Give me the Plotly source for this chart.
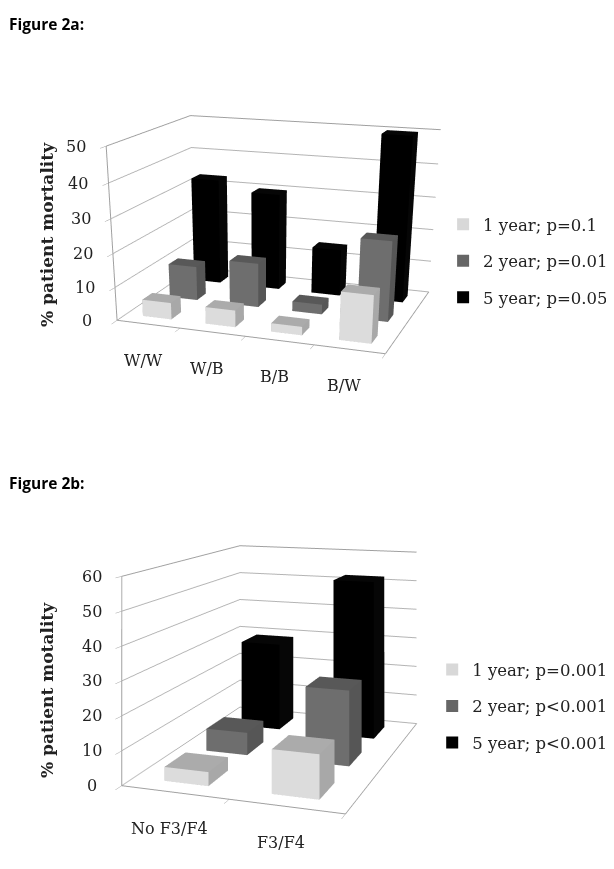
import plotly.graph_objects as go

FONT = "DejaVu Serif"
TEXT = "#222222"
W, H = 606, 861  # the page body adds an 8px margin round the plot

# Figure 2a
cats_a = ["W/W", "W/B", "B/B", "B/W"]
ticks_a = [0, 10, 20, 30, 40, 50]
one_year_a = [5, 5, 2.5, 14]
two_year_a = [10.5, 13.5, 3, 24]
five_year_a = [33, 30, 14.5, 50]
names_a = ["1 year; p=0.1", "2 year; p=0.01", "5 year; p=0.05"]

# Figure 2b
cats_b = ["No F3/F4", "F3/F4"]
ticks_b = [0, 10, 20, 30, 40, 50, 60]
one_year_b = [4, 12.5]
two_year_b = [7, 23]
five_year_b = [29, 52]
names_b = ["1 year; p=0.001", "2 year; p<0.001", "5 year; p<0.001"]

# front, side, top colours for each series
SHADES = [("#dcdcdc", "#a8a8a8", "#ababab"),
          ("#6e6e6e", "#565656", "#585858"),
          ("#000000", "#060606", "#060606")]
SWATCH = ["#d8d8d8", "#666666", "#000000"]


def bars(values, row, shades, scene, width=0.5, depth=0.5):
    """One mesh for a whole series, a box per category."""
    xs, ys, zs, i, j, k, colors = [], [], [], [], [], [], []
    front, side, top = shades
    for col, val in enumerate(values):
        n = len(xs)
        x0, x1 = col + 0.5 - width / 2, col + 0.5 + width / 2
        y0, y1 = row + 0.5 - depth / 2, row + 0.5 + depth / 2
        xs += [x0, x1, x1, x0, x0, x1, x1, x0]
        ys += [y0, y0, y1, y1, y0, y0, y1, y1]
        zs += [0, 0, 0, 0, val, val, val, val]
        faces = [(0, 1, 5, front), (0, 5, 4, front),
                 (1, 2, 6, side), (1, 6, 5, side),
                 (4, 5, 6, top), (4, 6, 7, top),
                 (3, 0, 4, side), (3, 4, 7, side),
                 (2, 3, 7, side), (2, 7, 6, side),
                 (0, 2, 1, side), (0, 3, 2, side)]
        for a, b, c, color in faces:
            i.append(n + a)
            j.append(n + b)
            k.append(n + c)
            colors.append(color)
    return go.Mesh3d(x=xs, y=ys, z=zs, i=i, j=j, k=k, facecolor=colors,
                     flatshading=True, scene=scene, hoverinfo="skip",
                     lighting=dict(ambient=1, diffuse=0, specular=0, fresnel=0))


def legend_entry(name, color, scene, legend):
    return go.Scatter3d(x=[None], y=[None], z=[None], mode="markers", name=name,
                        legendgroup=name,
                        marker=dict(symbol="square", size=11, color=color),
                        scene=scene, legend=legend, showlegend=True)


def scene_layout(cats, z_ticks, aspect, eye, center):
    line = dict(showline=True, linecolor="#a0a0a0", linewidth=2, showgrid=False,
                zeroline=False, showbackground=False, showspikes=False, title="")
    blank = dict(size=1, color="rgba(0,0,0,0)")
    labels = [dict(x=c + 0.5, y=0, z=0, text=cat, showarrow=False, xshift=-5, yshift=-36,
                   font=dict(family=FONT, size=16, color=TEXT))
              for c, cat in enumerate(cats)]
    labels += [dict(x=0, y=0, z=t, text=str(t), showarrow=False, xshift=-30, yshift=0,
                    font=dict(family=FONT, size=16, color=TEXT))
               for t in z_ticks]
    x_bounds = list(range(len(cats) + 1))
    return dict(
        domain=dict(x=[0, 0.83], y=[0, 1]),
        aspectmode="manual",
        aspectratio=dict(x=aspect[0], y=aspect[1], z=aspect[2]),
        camera=dict(eye=dict(x=eye[0], y=eye[1], z=eye[2]),
                    center=dict(x=center[0], y=center[1], z=center[2]),
                    up=dict(x=0, y=0, z=1),
                    projection=dict(type="perspective")),
        annotations=labels,
        xaxis=dict(line, range=[0, len(cats)], tickvals=x_bounds, ticktext=[" "] * len(x_bounds),
                   ticks="outside", ticklen=6, tickcolor="#a0a0a0", tickfont=blank, mirror=True),
        yaxis=dict(line, range=[0, 3], showticklabels=False, ticks="", mirror=True),
        zaxis=dict(line, range=[0, z_ticks[-1]], tickvals=z_ticks, ticktext=[" "] * len(z_ticks),
                   ticks="outside", ticklen=6, tickcolor="#a0a0a0", tickfont=blank, showgrid=True,
                   gridcolor="#b4b4b4", gridwidth=2),
    )


def text_at(text, x, y, size, family=FONT, angle=0, xanchor="center"):
    # x, y are page pixels from the top left
    return dict(text=text, x=(x - 8) / W, y=1 - (y - 8) / H, xref="paper", yref="paper",
                xanchor=xanchor, yanchor="middle", textangle=angle, showarrow=False,
                font=dict(family=family, size=size, color="black" if family != FONT else TEXT))


fig = go.Figure()
for row, vals in enumerate([one_year_a, two_year_a, five_year_a]):
    fig.add_trace(bars(vals, row, SHADES[row], "scene", width=0.46, depth=0.36))
    fig.add_trace(legend_entry(names_a[row], SWATCH[row], "scene", "legend"))

for row, vals in enumerate([one_year_b, two_year_b, five_year_b]):
    fig.add_trace(bars(vals, row, SHADES[row], "scene2", width=0.42, depth=0.48))
    fig.add_trace(legend_entry(names_b[row], SWATCH[row], "scene2", "legend2"))

legend_style = dict(font=dict(family=FONT, size=16.5, color=TEXT),
                    bgcolor="rgba(0,0,0,0)", borderwidth=0, xanchor="left",
                    yanchor="middle", itemsizing="constant", tracegroupgap=12)

fig.update_layout(
    width=W, height=H,
    margin=dict(l=0, r=0, t=0, b=0),
    paper_bgcolor="white",
    scene=scene_layout(cats_a, ticks_a, (1, 0.72, 0.62),
                       (1.21, -3.57, 0.94), (0.012, -0.25, -0.754)),
    scene2=scene_layout(cats_b, ticks_b, (0.95, 1.35, 0.86),
                        (1.52, -4.5, 0.98), (-0.223, 0.288, 1.0)),
    legend=dict(legend_style, x=0.718, y=0.706),
    legend2=dict(legend_style, x=0.70, y=0.189),
    annotations=[
        text_at("<b>Figure 2a:</b>", 7, 24, 15.5, "Open Sans", xanchor="left"),
        text_at("<b>Figure 2b:</b>", 7, 483, 15.5, "Open Sans", xanchor="left"),
        text_at("<b>% patient mortality</b>", 47, 235, 17, angle=-90),
        text_at("<b>% patient motality</b>", 47, 690, 17, angle=-90),
    ],
)

fig.write_html("out.html")
